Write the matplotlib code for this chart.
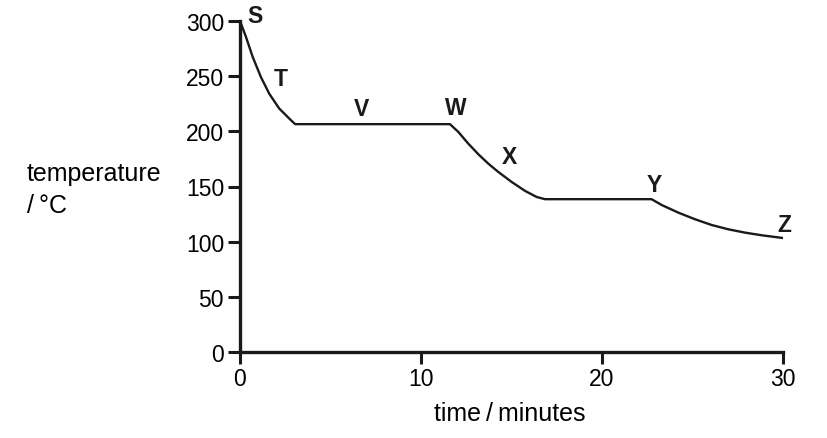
import matplotlib.pyplot as plt

plt.rcParams['font.family'] = ['Liberation Sans', 'DejaVu Sans']

# cooling curve
time = [0, 0.33, 0.70, 1.16, 1.62, 2.17, 2.82, 3.05,
        11.6, 12.06, 12.61, 13.17, 13.72, 14.27, 15.01, 15.75, 16.39, 16.85,
        22.74, 23.3, 24.22, 25.14, 26.06, 26.98, 27.9, 28.82, 30.0]
temp = [300, 285.6, 267.5, 249, 234, 220.6, 210, 206.5,
        206.5, 199.5, 188.9, 179.2, 170.7, 163.2, 154.1, 146, 140.5, 138.5,
        138.5, 133.2, 126.3, 120.3, 115.1, 111.2, 108.2, 105.8, 103.3]

labels = ['S', 'T', 'V', 'W', 'X', 'Y', 'Z']
label_t = [0.83, 2.27, 6.69, 11.93, 14.9, 22.9, 30.05]
label_T = [304.6, 247.5, 221, 222, 177, 152, 116]

xticks = [0, 10, 20, 30]
yticks = [0, 50, 100, 150, 200, 250, 300]

fig = plt.figure(figsize=(8.28, 4.39), dpi=100)
ax = fig.add_axes([240/828, 1 - 353/439, (783 - 240)/828, (353 - 22)/439])

ax.plot(time, temp, color='#1a1a1a', lw=1.7, solid_capstyle='round',
        solid_joinstyle='round')

for lab, t, T in zip(labels, label_t, label_T):
    ax.text(t, T, lab, fontsize=16.5, fontweight='bold', ha='center', va='center',
            color='#1a1a1a')

ax.set_xlim(0, 30)
ax.set_ylim(0, 300)
ax.set_xticks(xticks)
ax.set_yticks(yticks)
ax.tick_params(labelsize=16.5, width=2.2, length=8.5, color='#1a1a1a', pad=2.5)
ax.tick_params(axis='y', pad=3)
for side in ['top', 'right']:
    ax.spines[side].set_visible(False)
for side in ['left', 'bottom']:
    ax.spines[side].set_linewidth(2.4)
    ax.spines[side].set_color('#1a1a1a')
    ax.spines[side].set_capstyle('projecting')

fig.text(27/828, 1 - 181/439, 'temperature', fontsize=18, ha='left', va='baseline')
fig.text(27/828, 1 - 213/439, '/\u2009°C', fontsize=18, ha='left', va='baseline')
fig.text(510/828, 1 - 421/439, 'time\u2009/\u2009minutes', fontsize=18,
         ha='center', va='baseline')

fig.savefig('out.png', dpi=100)
